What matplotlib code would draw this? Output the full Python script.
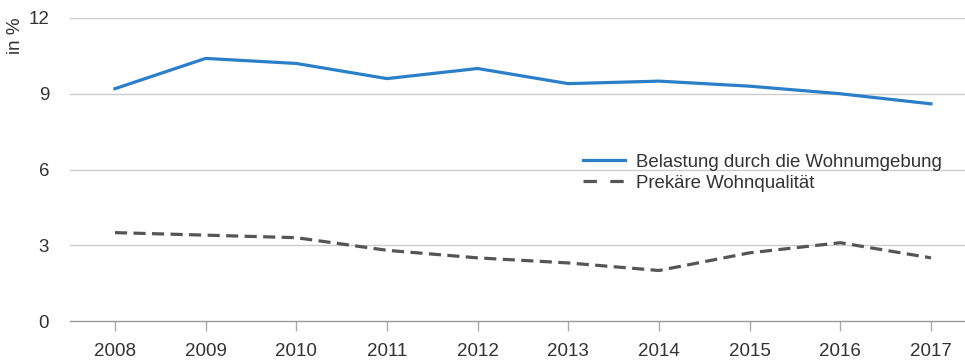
import matplotlib
matplotlib.use("Agg")
import matplotlib.pyplot as plt
from matplotlib.lines import Line2D

years = [2008, 2009, 2010, 2011, 2012, 2013, 2014, 2015, 2016, 2017]
belastung = [9.2, 10.4, 10.2, 9.6, 10.0, 9.4, 9.5, 9.3, 9.0, 8.6]
prekaer = [3.5, 3.4, 3.3, 2.8, 2.5, 2.3, 2.0, 2.7, 3.1, 2.5]
yticks = [0, 3, 6, 9, 12]
labels = ["Belastung durch die Wohnumgebung", "Prekäre Wohnqualität"]

plt.rcParams['font.family'] = ['Liberation Sans', 'DejaVu Sans']
text_color = "#333333"
blue = "#2b7ec8"
grey = "#555555"

fig = plt.figure(figsize=(9.65, 3.62), dpi=100)
ax = fig.add_axes([70 / 965, 1 - 321 / 362, 895 / 965, (321 - 18) / 362])

ax.plot(years, belastung, color=blue, lw=2.3, zorder=3)
ax.plot(years, prekaer, color=grey, lw=2.3, dashes=(3.8, 2.0), zorder=3)

ax.set_xlim(2007.504, 2017.375)
ax.set_ylim(0, 12)
ax.set_yticks(yticks)
ax.set_xticks(years)
ax.set_xticklabels([str(y) for y in years])

for y in yticks[1:]:
    ax.axhline(y, color="#cccccc", lw=1.0, zorder=1)

for s in ["top", "right", "left"]:
    ax.spines[s].set_visible(False)
ax.spines["bottom"].set_color("#999999")
ax.spines["bottom"].set_linewidth(1.0)

ax.tick_params(axis="x", length=7, width=1, color="#aaaaaa", labelsize=13.5,
               labelcolor=text_color, pad=9)
ax.tick_params(axis="y", length=0, labelsize=13.5, labelcolor=text_color, pad=15)

fig.text(16 / 965, 1 - 17 / 362, "in %", rotation=90, ha="center", va="top",
         fontsize=13.5, color=text_color)

handles = [Line2D([], [], color=blue, lw=2.3),
           Line2D([], [], color=grey, lw=2.3, dashes=(4.2, 4.2))]
leg = ax.legend(handles, labels, loc="upper left", bbox_to_anchor=(0.5735, 0.552),
                frameon=False, fontsize=13.4, handlelength=2.25, handletextpad=0.6,
                labelspacing=0.2, borderaxespad=0, borderpad=0)
for t in leg.get_texts():
    t.set_color(text_color)

fig.savefig("out.png", dpi=100)
